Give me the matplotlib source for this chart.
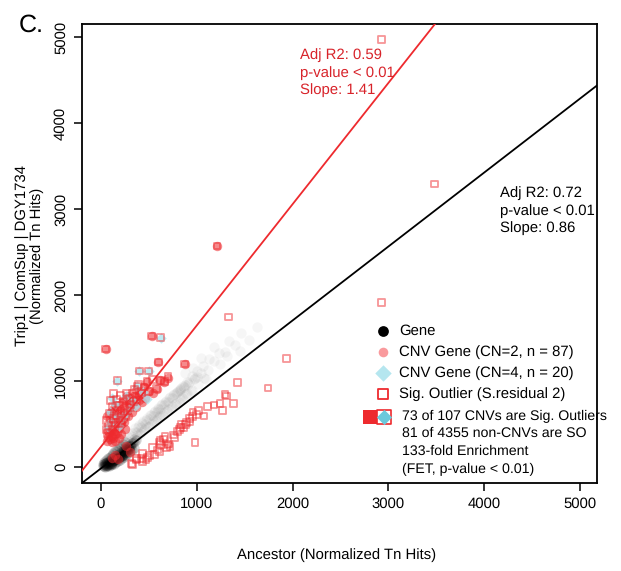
import matplotlib
matplotlib.use("Agg")
import matplotlib.pyplot as plt

plt.rcParams['font.family'] = ['Liberation Sans', 'DejaVu Sans']
plt.rcParams['text.hinting'] = 'none'

RED = '#ee2a2e'
W, H = 621, 571

# dense part of the gene cloud near the origin
core_x = [20, 30, 40, 50, 60, 70, 80, 90, 100, 110, 120, 130, 140, 150, 160, 170, 180, 190, 200, 210,
          220, 230, 240, 250, 260, 270, 280, 290, 300, 310, 25, 45, 65, 85, 105, 125, 145, 165, 185, 205,
          225, 245, 265, 285, 305, 325, 345, 365, 30, 50, 70, 90, 110, 130, 150, 170, 190, 210, 230, 250,
          40, 60, 80, 100, 120, 140, 160, 180, 200, 220, 240, 260, 280, 300, 320, 340, 35, 55, 75, 95,
          115, 135, 155, 175, 195, 215, 235, 255, 275, 295]
core_y = [10, 15, 20, 15, 25, 25, 30, 40, 35, 50, 60, 65, 80, 85, 90, 105, 100, 120, 130, 145,
          130, 160, 185, 170, 205, 195, 225, 215, 250, 240, 35, 45, 60, 75, 90, 105, 120, 135, 150, 170,
          190, 205, 225, 240, 260, 275, 290, 310, 60, 80, 105, 120, 140, 165, 185, 200, 225, 245, 265, 285,
          5, 10, 15, 20, 30, 40, 55, 70, 80, 100, 115, 135, 160, 185, 200, 225, 30, 50, 45, 65,
          75, 85, 100, 110, 115, 125, 145, 160, 180, 205]

# fainter genes further along the black line
gene_x = [200, 220, 240, 260, 280, 300, 320, 340, 360, 380, 400, 420, 440, 460, 480, 500, 520, 540, 560, 580,
          600, 620, 640, 660, 680, 700, 720, 740, 760, 780, 800, 820, 840, 860, 880, 900, 920, 950, 980, 1010,
          250, 270, 290, 310, 330, 350, 370, 390, 410, 430, 450, 470, 490, 510, 530, 550, 570, 590, 610, 630,
          650, 670, 690, 710, 730, 750, 770, 790, 810, 830, 850, 870, 890, 910, 940, 970, 1000, 1040, 1080, 1120,
          300, 340, 380, 420, 460, 500, 540, 580, 620, 660, 700, 740, 780, 820, 860, 900, 950, 1000, 1060, 1130,
          1180, 1230, 1290, 1340, 1400, 1460, 1540, 1625, 1240, 1100, 1320, 1180, 1450, 1040, 960, 880]
gene_y = [230, 190, 310, 250, 350, 290, 400, 330, 450, 370, 490, 410, 530, 450, 570, 480, 610, 530, 650, 560,
          690, 600, 730, 640, 770, 680, 810, 710, 850, 750, 880, 790, 920, 820, 950, 860, 990, 900, 1030, 960,
          190, 300, 240, 360, 290, 410, 340, 460, 380, 510, 430, 550, 460, 600, 500, 640, 540, 680, 580, 720,
          610, 760, 650, 800, 690, 840, 730, 870, 760, 900, 800, 930, 850, 970, 880, 1020, 1050, 1090, 1030, 1130,
          260, 330, 410, 460, 500, 560, 590, 640, 680, 720, 760, 800, 860, 910, 940, 990, 1060, 1120, 1180, 1260,
          1230, 1320, 1340, 1470, 1420, 1560, 1480, 1630, 1200, 1020, 1290, 1400, 1350, 1270, 1150, 1090]

# CNV genes at copy number 2
cn2_x = [49, 529, 599, 874, 1210, 80, 100, 120, 140, 160, 180, 200, 220, 240, 260, 280, 300, 320, 345, 370,
         395, 420, 450, 480, 500, 540, 580, 620, 660, 700, 60, 70, 90, 110, 130, 150, 170, 190, 210, 230,
         95, 115, 135, 155, 175, 195, 215, 250, 270, 290, 310, 340, 370, 400, 430, 460, 70, 110, 150, 190,
         120, 180, 300, 60, 100, 140, 210, 250, 150, 260]
cn2_y = [1372, 1523, 1220, 1197, 2570, 390, 430, 470, 420, 520, 480, 560, 610, 520, 640, 590, 700, 640, 760, 700,
         780, 860, 930, 990, 880, 860, 910, 1010, 990, 1040, 300, 350, 320, 360, 340, 380, 400, 450, 500, 560,
         560, 600, 650, 700, 620, 680, 740, 780, 820, 760, 800, 830, 900, 840, 760, 800, 420, 290, 300, 340,
         110, 90, 170, 590, 640, 690, 380, 440, 140, 250]

# CNV genes at copy number 4
cn4_x = [623, 400, 498, 171, 380, 164, 120, 260, 330, 90, 210, 290, 440, 150, 70, 240, 355, 105, 190, 480]
cn4_y = [1503, 1116, 1116, 1003, 941, 593, 800, 820, 770, 640, 560, 680, 870, 730, 470, 610, 710, 520, 480, 790]

# significant outliers, open squares
out_x = [320, 331, 373, 432, 432, 484, 540, 588, 616, 668, 703, 755, 801, 842, 929, 982, 957, 1016, 1076, 1110,
         1180, 1243, 1267, 1295, 1312, 1385, 1427, 1744, 1935, 1330, 2930, 3480, 2930, 680, 720, 610, 650, 820, 860, 770,
         920, 895, 1000, 960, 880, 830, 560, 510, 470, 610, 420, 370, 620, 700,
         49, 529, 599, 874, 1210, 623, 400, 498, 171, 380, 164, 60, 75, 90, 100, 115, 130, 145, 160, 175,
         190, 205, 220, 235, 250, 265, 280, 295, 310, 330, 350, 370, 395, 420, 450, 480, 540, 580, 660, 700,
         55, 70, 120, 140, 180, 210, 260, 300, 340, 500, 620, 130, 150, 200, 240]
out_y = [42, 31, 81, 158, 61, 112, 224, 197, 306, 352, 267, 372, 410, 496, 527, 283, 585, 655, 593, 701,
         720, 740, 655, 845, 825, 740, 980, 918, 1263, 1744, 4970, 3290, 1910, 220, 240, 175, 325, 440, 460, 345,
         560, 520, 610, 640, 495, 460, 150, 130, 85, 290, 100, 95, 265, 255,
         1372, 1523, 1220, 1197, 2570, 1503, 1116, 1116, 1003, 941, 593, 440, 480, 620, 770, 700, 850, 600, 790, 660,
         720, 830, 540, 760, 700, 860, 660, 800, 730, 850, 900, 780, 960, 860, 930, 990, 1020, 910, 990, 1050,
         540, 390, 440, 470, 520, 620, 600, 690, 760, 880, 1010, 560, 500, 500, 640]

line_x = [-198, 5177]
black_intercept, black_slope = -16, 0.86
red_intercept, red_slope = 236, 1.41

black_stats = ['Adj R2: 0.72', 'p-value < 0.01', 'Slope: 0.86']
red_stats = ['Adj R2: 0.59', 'p-value < 0.01', 'Slope: 1.41']
legend_labels = ['Gene', 'CNV Gene (CN=2, n = 87)', 'CNV Gene (CN=4, n = 20)', 'Sig. Outlier (S.residual 2)']
summary_lines = ['73 of 107 CNVs are Sig. Outliers', '81 of 4355 non-CNVs are SO', '133-fold Enrichment', '(FET, p-value < 0.01)']

fig = plt.figure(figsize=(W / 100, H / 100), dpi=100)
ax = fig.add_axes([82 / W, 1 - 483 / H, (597 - 82) / W, (483 - 24) / H])
ax.set_xlim(-198, 5177)
ax.set_ylim(-186, 5151)

ax.scatter(gene_x, gene_y, s=55, c='black', alpha=0.035, linewidths=0, zorder=1)
ax.scatter(core_x, core_y, s=55, c='black', alpha=0.16, linewidths=0, zorder=1)
ax.plot(line_x, [black_intercept + black_slope * v for v in line_x], color='black', lw=1.3, zorder=2)
ax.scatter(cn2_x, cn2_y, s=46, c=RED, alpha=0.55, linewidths=0, zorder=3)
ax.scatter(cn4_x, cn4_y, s=28, c='#a9e3ee', marker='D', alpha=0.75, linewidths=0, zorder=3)
ax.scatter(out_x, out_y, s=24, marker='s', facecolors='none', edgecolors=RED, alpha=0.5, linewidths=1.3, zorder=4)
ax.plot(line_x, [red_intercept + red_slope * v for v in line_x], color=RED, lw=1.3, zorder=5)

ax.set_xticks([0, 1000, 2000, 3000, 4000, 5000])
ax.set_yticks([0, 1000, 2000, 3000, 4000, 5000])
ax.tick_params(length=6, width=1.1, labelsize=10.7, pad=4)
plt.setp(ax.get_yticklabels(), rotation=90, va='center')
for s in ax.spines.values():
    s.set_linewidth(1.3)


def px(x, y):
    return x / W, 1 - y / H


fig.text(*px(337, 559), 'Ancestor (Normalized Tn Hits)', fontsize=10.7, ha='center', va='baseline')
fig.text(*px(30, 256), 'Trip1 | ComSup | DGY1734\n(Normalized Tn Hits)', fontsize=10.7, rotation=90,
         ha='center', va='center', linespacing=1.05)
fig.text(*px(19, 32), 'C.', fontsize=18, va='baseline')

for i, s in enumerate(red_stats):
    fig.text(*px(300, 59 + 17.5 * i), s, color='#d8232a', fontsize=10.7, va='baseline')
for i, s in enumerate(black_stats):
    fig.text(*px(500, 197 + 17.5 * i), s, color='black', fontsize=10.7, va='baseline')

# hand placed legend
leg = fig.add_axes([0, 0, 1, 1], facecolor='none')
leg.set_xlim(0, W)
leg.set_ylim(H, 0)
leg.axis('off')
leg.scatter([383], [331], s=60, c='black', linewidths=0)
leg.scatter([383], [352], s=48, c='#f99a9d', linewidths=0)
leg.scatter([383], [373], s=70, c='#b5e6ef', marker='D', linewidths=0)
leg.scatter([383], [394], s=62, marker='s', facecolors='none', edgecolors=RED, linewidths=1.3)
leg.scatter([370, 372], [417, 417], s=100, marker='s', c=RED, linewidths=0)
leg.scatter([384], [417], s=105, marker='s', facecolors='white', edgecolors=RED, linewidths=1.2)
leg.scatter([384], [417], s=60, marker='D', c='#6cc9dc', linewidths=0)
for s, y in zip(legend_labels, [331, 352, 373, 394]):
    leg.text(399, y, s, fontsize=10.7, va='center')
for s, y in zip(summary_lines, [416, 433, 451, 469]):
    leg.text(402, y, s, fontsize=10.2, va='center')

fig.savefig('out.png', dpi=100)
